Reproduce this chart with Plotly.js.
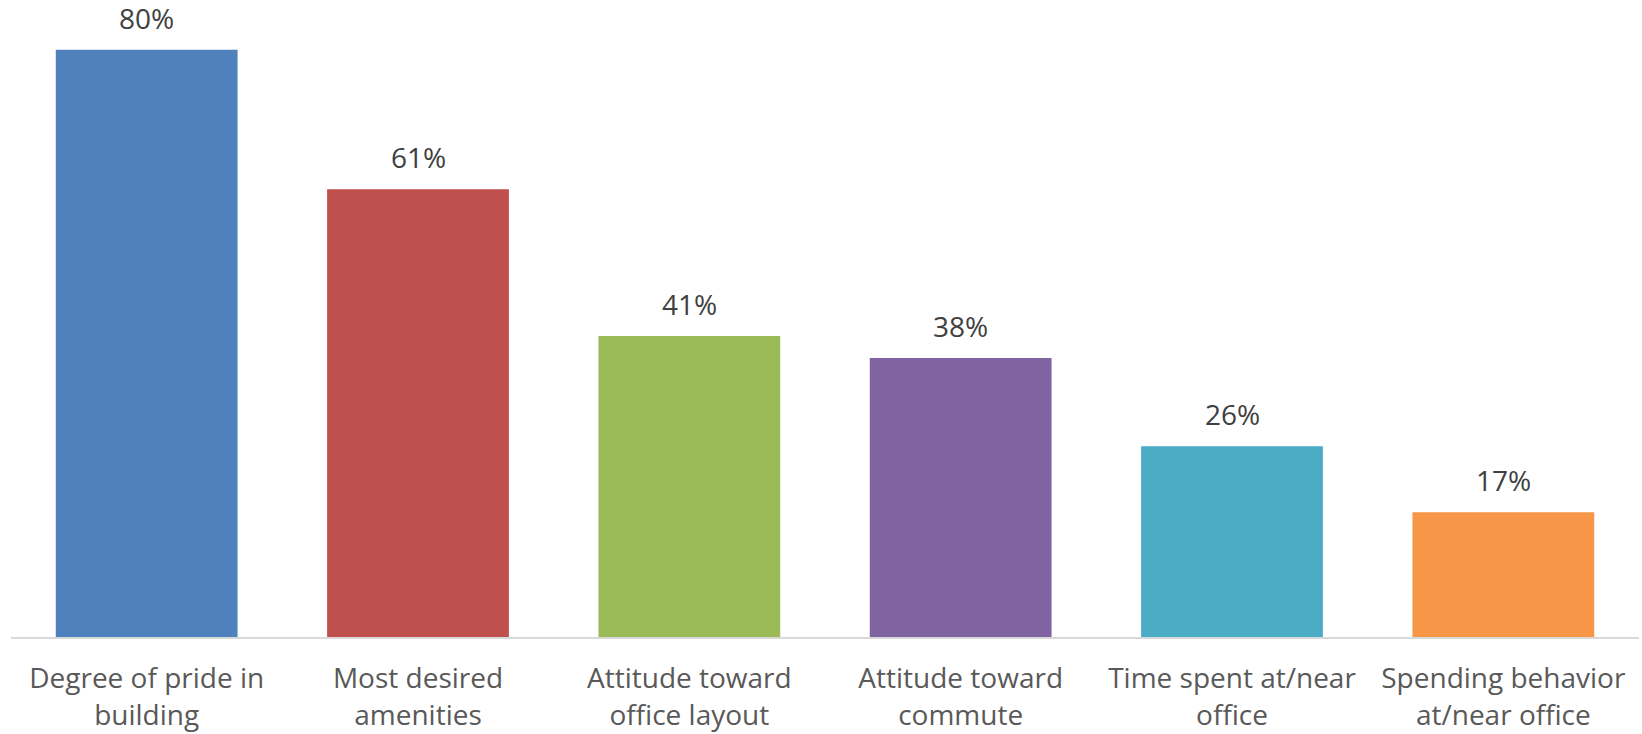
<!DOCTYPE html>
<html>
<head>
<meta charset="utf-8">
<script src="https://cdn.plot.ly/plotly-3.0.1.min.js"></script>
<style>
html,body{margin:0;padding:0;background:#fff;}
#chart{width:1642px;height:734px;}
</style>
</head>
<body>
<div id="chart"></div>
<script>
const categories = [
  "Degree of pride in<br>building",
  "Most desired<br>amenities",
  "Attitude toward<br>office layout",
  "Attitude toward<br>commute",
  "Time spent at/near<br>office",
  "Spending behavior<br>at/near office"
];
const values = [80, 61, 41, 38, 26, 17];
const valueLabels = ["80%", "61%", "41%", "38%", "26%", "17%"];
const barColors = ["#4F81BD", "#C0504D", "#9BBB59", "#8064A2", "#4BACC6", "#F79646"];

const FONT = "Open Sans, sans-serif";

const trace = {
  type: "bar",
  x: categories,
  y: values,
  marker: { color: barColors, line: { width: 0 } },
  hoverinfo: "none"
};

const annotations = categories.map((c, i) => ({
  x: c,
  y: values[i],
  xref: "x",
  yref: "y",
  text: valueLabels[i],
  showarrow: false,
  yanchor: "bottom",
  yshift: 11,
  font: { family: FONT, size: 28, color: "#404040" }
}));

const layout = {
  width: 1642,
  height: 734,
  margin: { l: 11, r: 3, t: 13, b: 97 },
  paper_bgcolor: "#ffffff",
  plot_bgcolor: "#ffffff",
  showlegend: false,
  bargap: 0.33,
  xaxis: {
    type: "category",
    showgrid: false,
    zeroline: false,
    showline: true,
    linecolor: "#D9D9D9",
    linewidth: 1.5,
    ticks: "",
    ticklabelstandoff: 16,
    tickfont: { family: FONT, size: 28, color: "#595959" }
  },
  yaxis: {
    range: [0, 85],
    showgrid: false,
    zeroline: false,
    showline: false,
    showticklabels: false,
    ticks: ""
  },
  annotations: annotations
};

Plotly.newPlot("chart", [trace], layout, { displayModeBar: false, staticPlot: true });
</script>
</body>
</html>
